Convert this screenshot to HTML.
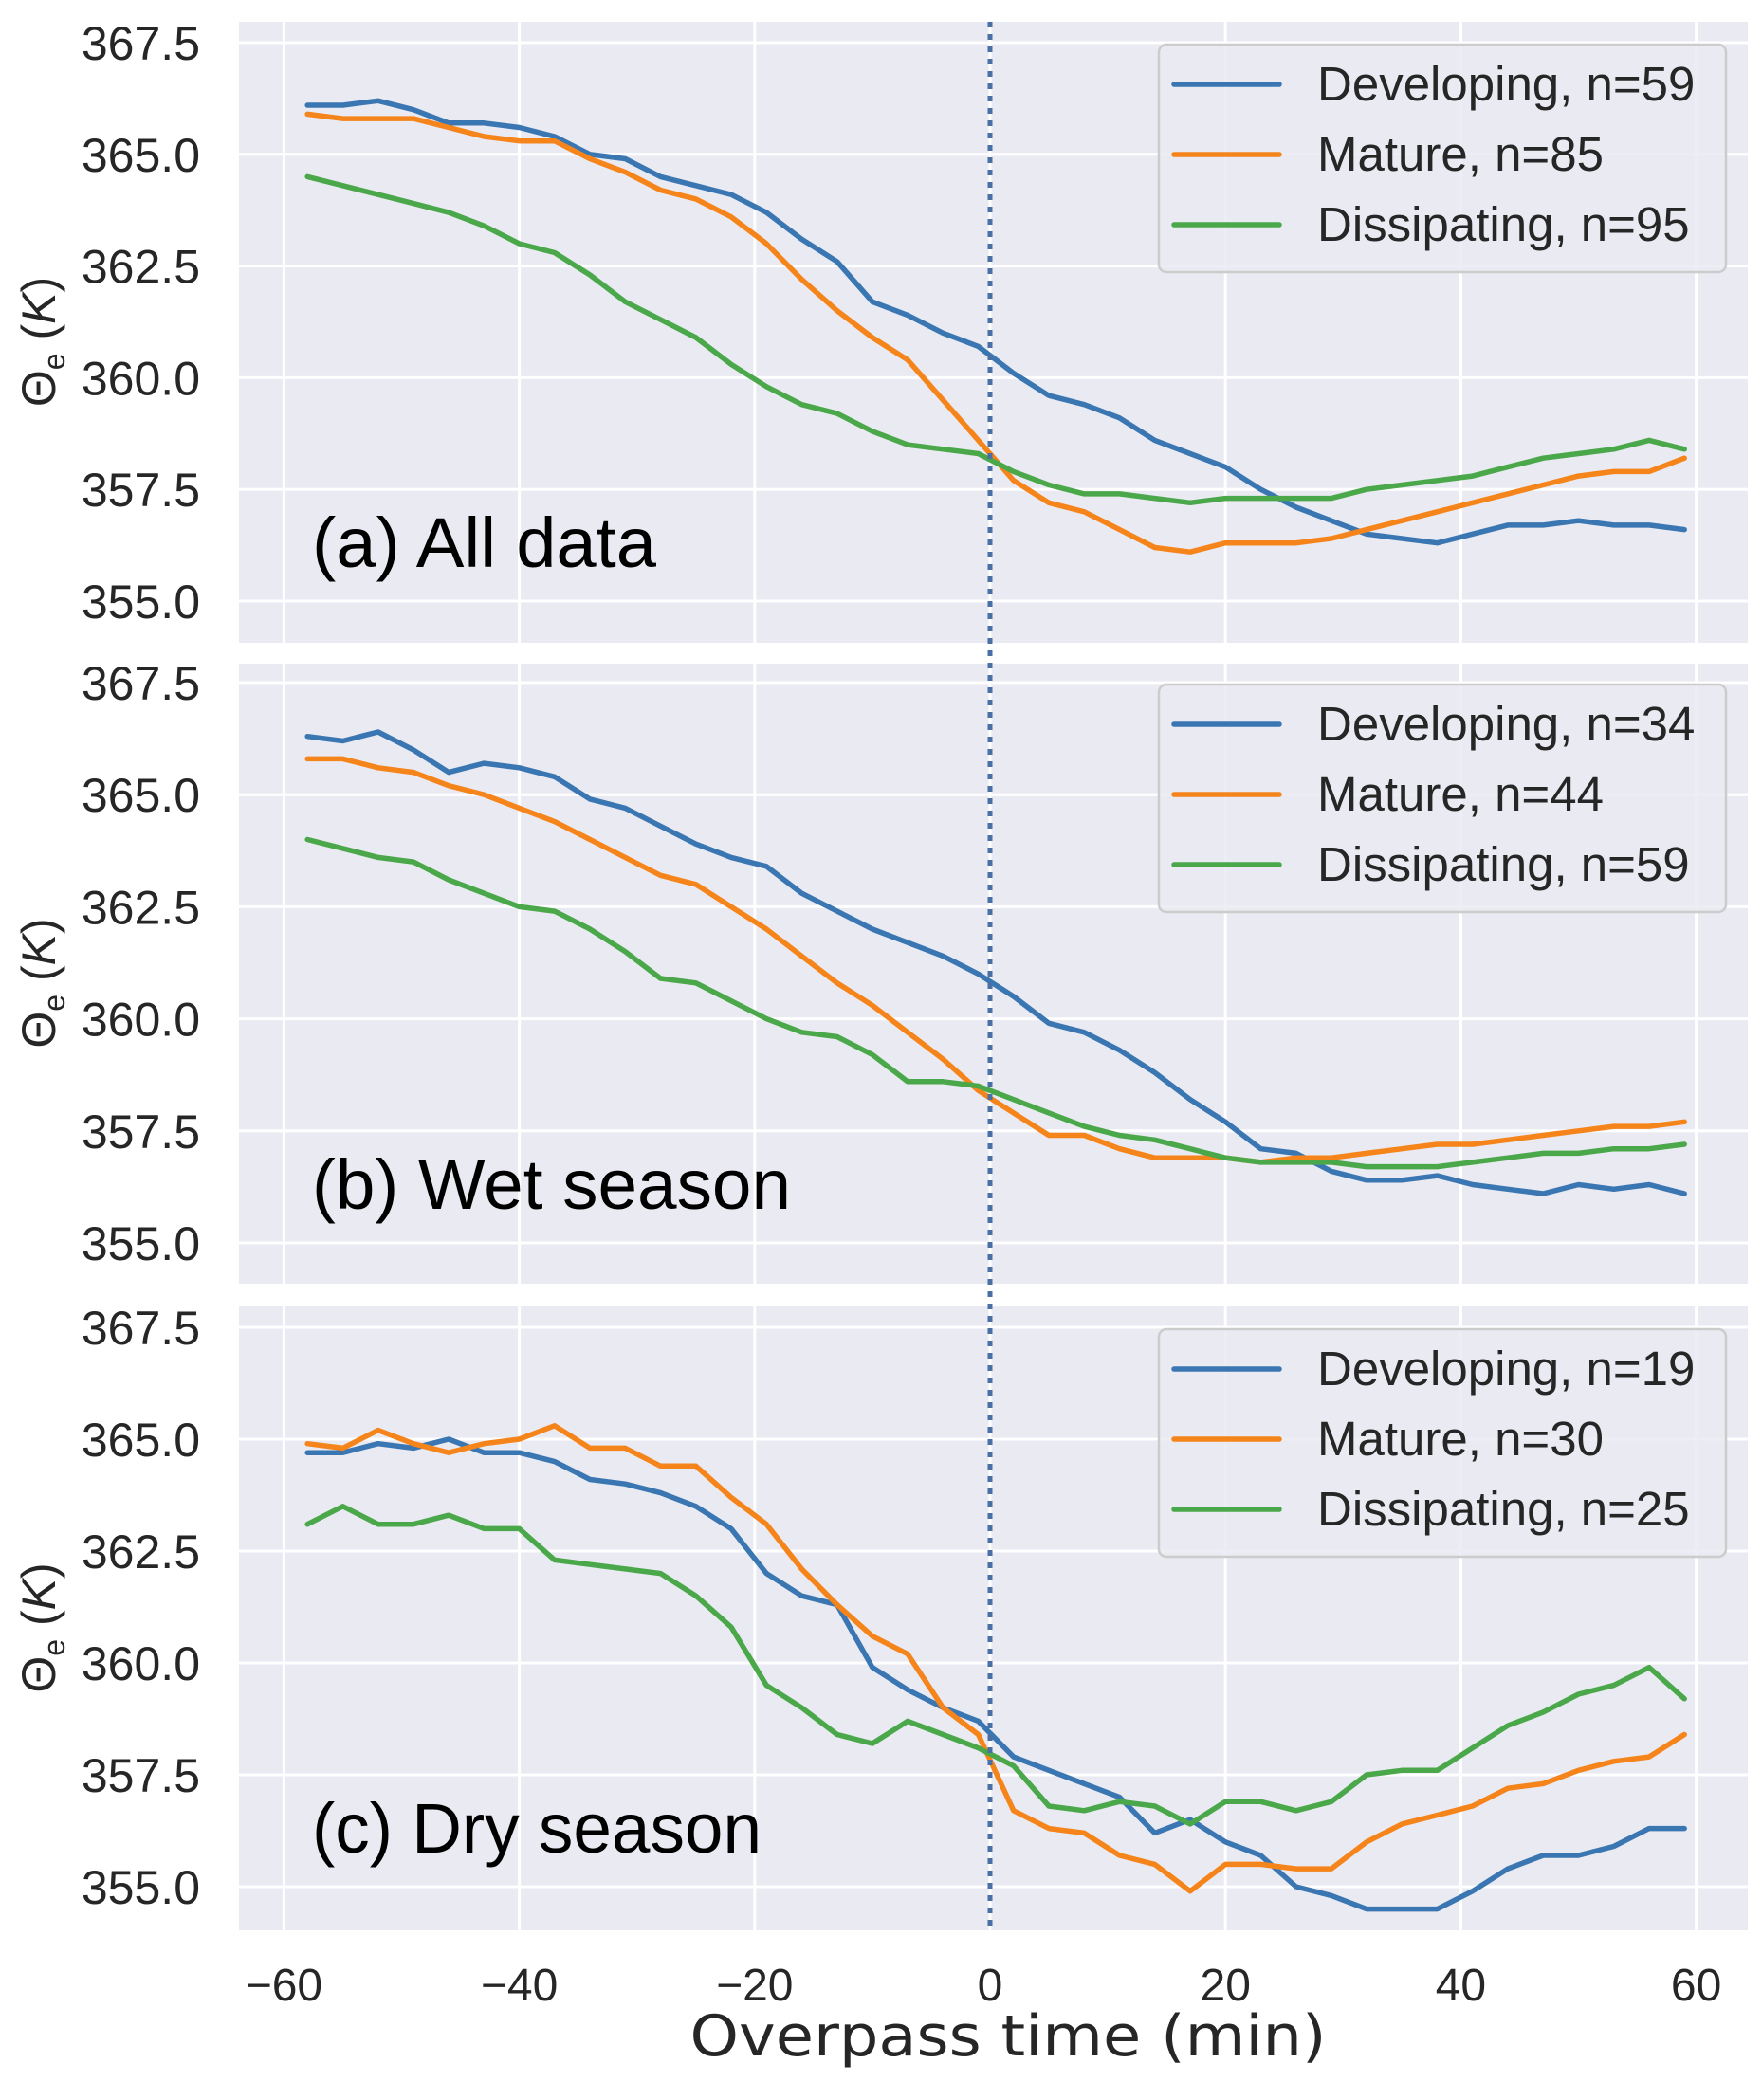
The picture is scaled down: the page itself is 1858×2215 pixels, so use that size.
<!DOCTYPE html>
<html><head><meta charset="utf-8"><style>
html,body{margin:0;padding:0;background:#fff;}
svg{display:block;}
</style></head><body>
<svg id="chart" width="1858" height="2215" xmlns="http://www.w3.org/2000/svg"></svg>
<script>
const times = [-58,-55,-52,-49,-46,-43,-40,-37,-34,-31,-28,-25,-22,-19,-16,-13,-10,-7,-4,-1,2,5,8,11,14,17,20,23,26,29,32,35,38,41,44,47,50,53,56,59];
const xTicks = [-60,-40,-20,0,20,40,60];
const yTicks = [355.0,357.5,360.0,362.5,365.0,367.5];
const seriesNames = ["Developing","Mature","Dissipating"];
const panelLabels = ["(a) All data","(b) Wet season","(c) Dry season"];
const countsA = [59,85,95];
const countsB = [34,44,59];
const countsC = [19,30,25];
const aDeveloping = [366.1,366.1,366.2,366.0,365.7,365.7,365.6,365.4,365.0,364.9,364.5,364.3,364.1,363.7,363.1,362.6,361.7,361.4,361.0,360.7,360.1,359.6,359.4,359.1,358.6,358.3,358.0,357.5,357.1,356.8,356.5,356.4,356.3,356.5,356.7,356.7,356.8,356.7,356.7,356.6];
const aMature = [365.9,365.8,365.8,365.8,365.6,365.4,365.3,365.3,364.9,364.6,364.2,364.0,363.6,363.0,362.2,361.5,360.9,360.4,359.5,358.6,357.7,357.2,357.0,356.6,356.2,356.1,356.3,356.3,356.3,356.4,356.6,356.8,357.0,357.2,357.4,357.6,357.8,357.9,357.9,358.2];
const aDissipating = [364.5,364.3,364.1,363.9,363.7,363.4,363.0,362.8,362.3,361.7,361.3,360.9,360.3,359.8,359.4,359.2,358.8,358.5,358.4,358.3,357.9,357.6,357.4,357.4,357.3,357.2,357.3,357.3,357.3,357.3,357.5,357.6,357.7,357.8,358.0,358.2,358.3,358.4,358.6,358.4];
const bDeveloping = [366.3,366.2,366.4,366.0,365.5,365.7,365.6,365.4,364.9,364.7,364.3,363.9,363.6,363.4,362.8,362.4,362.0,361.7,361.4,361.0,360.5,359.9,359.7,359.3,358.8,358.2,357.7,357.1,357.0,356.6,356.4,356.4,356.5,356.3,356.2,356.1,356.3,356.2,356.3,356.1];
const bMature = [365.8,365.8,365.6,365.5,365.2,365.0,364.7,364.4,364.0,363.6,363.2,363.0,362.5,362.0,361.4,360.8,360.3,359.7,359.1,358.4,357.9,357.4,357.4,357.1,356.9,356.9,356.9,356.8,356.9,356.9,357.0,357.1,357.2,357.2,357.3,357.4,357.5,357.6,357.6,357.7];
const bDissipating = [364.0,363.8,363.6,363.5,363.1,362.8,362.5,362.4,362.0,361.5,360.9,360.8,360.4,360.0,359.7,359.6,359.2,358.6,358.6,358.5,358.2,357.9,357.6,357.4,357.3,357.1,356.9,356.8,356.8,356.8,356.7,356.7,356.7,356.8,356.9,357.0,357.0,357.1,357.1,357.2];
const cDeveloping = [364.7,364.7,364.9,364.8,365.0,364.7,364.7,364.5,364.1,364.0,363.8,363.5,363.0,362.0,361.5,361.3,359.9,359.4,359.0,358.7,357.9,357.6,357.3,357.0,356.2,356.5,356.0,355.7,355.0,354.8,354.5,354.5,354.5,354.9,355.4,355.7,355.7,355.9,356.3,356.3];
const cMature = [364.9,364.8,365.2,364.9,364.7,364.9,365.0,365.3,364.8,364.8,364.4,364.4,363.7,363.1,362.1,361.3,360.6,360.2,359.0,358.4,356.7,356.3,356.2,355.7,355.5,354.9,355.5,355.5,355.4,355.4,356.0,356.4,356.6,356.8,357.2,357.3,357.6,357.8,357.9,358.4];
const cDissipating = [363.1,363.5,363.1,363.1,363.3,363.0,363.0,362.3,362.2,362.1,362.0,361.5,360.8,359.5,359.0,358.4,358.2,358.7,358.4,358.1,357.7,356.8,356.7,356.9,356.8,356.4,356.9,356.9,356.7,356.9,357.5,357.6,357.6,358.1,358.6,358.9,359.3,359.5,359.9,359.2];

const NS = "http://www.w3.org/2000/svg";
const svg = document.getElementById('chart');
const colors = ["#3a76b1","#f5841a","#4aa84a"];
const X0 = 252, X1 = 1843;
function xs(t){ return 1044 + t*12.41; }
const panels = [
  {top:23, bottom:678, y367:45, y355:634, data:[aDeveloping,aMature,aDissipating], counts:countsA, key:'a', lw:363},
  {top:700, bottom:1354, y367:720, y355:1311, data:[bDeveloping,bMature,bDissipating], counts:countsB, key:'b', lw:505},
  {top:1378, bottom:2036, y367:1400, y355:1990, data:[cDeveloping,cMature,cDissipating], counts:countsC, key:'c', lw:474}
];
function mk(tag, attrs, parent){
  const e = document.createElementNS(NS, tag);
  for (const k in attrs) e.setAttribute(k, attrs[k]);
  (parent||svg).appendChild(e);
  return e;
}
panels.forEach((p, pi) => {
  const ys = v => p.y355 + (355 - v) * (p.y355 - p.y367) / 12.5;
  const g = mk('g', {});
  
  
  const bg = mk('rect', {x:X0, y:p.top, width:X1-X0, height:p.bottom-p.top, fill:'#eaeaf2'}, g);
  
  
  xTicks.forEach(t => {
    const l = mk('line', {x1:xs(t), x2:xs(t), y1:p.top, y2:p.bottom, stroke:'#fff', 'stroke-width':3}, g);
    
    
  });
  yTicks.forEach(v => {
    const l = mk('line', {x1:X0, x2:X1, y1:ys(v), y2:ys(v), stroke:'#fff', 'stroke-width':3}, g);
    
    
    const t = mk('text', {x:211, y:ys(v)+18, 'text-anchor':'end', 'font-family':'Liberation Sans, Arial, sans-serif', 'font-size':50, fill:'#262626'}, g);
    t.textContent = v.toFixed(1);
    
    
  });
  p.data.forEach((arr, si) => {
    const d = arr.map((v,i) => (i?'L':'M') + xs(times[i]).toFixed(1) + ',' + ys(v).toFixed(1)).join(' ');
    const path = mk('path', {d:d, fill:'none', stroke:colors[si], 'stroke-width':5.5, 'stroke-linejoin':'round', 'stroke-linecap':'round'}, g);
    
    
  });
  const pl = mk('text', {x:329, y:p.y355-36, 'font-family':'Liberation Sans, Arial, sans-serif', 'font-size':74, fill:'#000', textLength:p.lw, lengthAdjust:'spacingAndGlyphs'}, g);
  pl.textContent = panelLabels[pi];
  
  
  const lg = mk('g', {}, g);
  
  
  const by = p.y367 + 2;
  mk('rect', {x:1222, y:by, width:598, height:240, rx:8, fill:'#eaeaf2', 'fill-opacity':0.85, stroke:'#cccccc', 'stroke-width':2.5}, lg);
  seriesNames.forEach((n, si) => {
    const cy = by + 42 + si*74;
    const e = mk('g', {}, lg);
    
    
    mk('line', {x1:1238, x2:1349, y1:cy, y2:cy, stroke:colors[si], 'stroke-width':5.5, 'stroke-linecap':'round'}, e);
    const t = mk('text', {x:1389, y:cy+17, 'font-family':'Liberation Sans, Arial, sans-serif', 'font-size':51, fill:'#262626'}, e);
    t.textContent = n + ', n=' + p.counts[si];
  });
  const cy = (p.top + p.bottom)/2 + 10;
  const yl = mk('text', {x:0, y:0, transform:'translate(58,' + cy + ') rotate(-90)', 'text-anchor':'middle', 'font-family':'Liberation Sans, Arial, sans-serif', 'font-size':50, fill:'#262626'}, g);
  yl.innerHTML = 'Θ<tspan font-size="32" dy="10">e</tspan><tspan dy="-10"> (</tspan><tspan font-style="italic">K</tspan>)';
  
  
});
const zl = mk('line', {x1:xs(0), x2:xs(0), y1:23, y2:2036, stroke:'#4a6fa5', 'stroke-width':5, 'stroke-dasharray':'6,7'});


xTicks.forEach(t => {
  const tx = mk('text', {x:xs(t), y:2110, 'text-anchor':'middle', 'font-family':'Liberation Sans, Arial, sans-serif', 'font-size':48, fill:'#262626'});
  tx.textContent = t < 0 ? '\u2212' + Math.abs(t) : String(t);
  
  
});
const xt = mk('text', {x:1063, y:2168, 'text-anchor':'middle', 'font-family':'DejaVu Sans, Liberation Sans, sans-serif', 'font-size':60, fill:'#262626', textLength:671, lengthAdjust:'spacingAndGlyphs'});
xt.textContent = 'Overpass time (min)';


</script>
</body></html>
